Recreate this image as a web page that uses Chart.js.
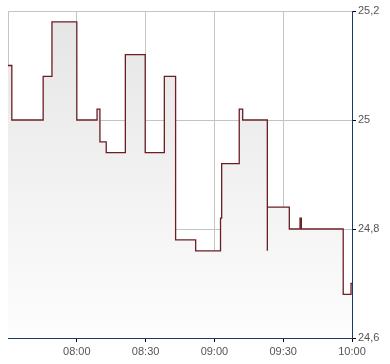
<!DOCTYPE html>
<html>
<head>
<meta charset="utf-8">
<script src="https://cdn.jsdelivr.net/npm/chart.js@4/dist/chart.umd.min.js"></script>
<style>
  html,body{margin:0;padding:0;background:#fff}
  #wrap{width:390px;height:364px}
</style>
</head>
<body>
<div id="wrap"><canvas id="c"></canvas></div>
<script>
// change points of the price (step line)
const times=['07:30:00','07:31:40','07:45:20','07:49:10','08:00:00','08:08:50','08:10:05','08:12:50',
  '08:21:10','08:29:50','08:38:10','08:43:05','08:51:50','09:02:40','09:03:10','09:10:50','09:12:20',
  '09:23:05','09:23:05','09:32:40','09:37:20','09:37:55','09:56:10','09:59:35','10:00:00'];
const prices=[25.10,25.00,25.08,25.18,25.00,25.02,24.96,24.94,
  25.12,24.94,25.08,24.78,24.76,24.82,24.92,25.02,25.00,
  24.76,24.84,24.80,24.82,24.80,24.68,24.70,24.70];
const xTicks=['07:30','08:00','08:30','09:00','09:30','10:00'];
const yTicks=[24.6,24.8,25.0,25.2];

const toMin=s=>{const p=s.split(':').map(Number);return p[0]*60+p[1]+(p[2]||0)/60;};
const fmtTime=m=>String(Math.floor(m/60)).padStart(2,'0')+':'+String(Math.round(m%60)).padStart(2,'0');
const xMin=toMin(xTicks[0]), xMax=toMin(xTicks[xTicks.length-1]);

const pts=times.map((t,i)=>({x:toMin(t),y:prices[i]}));
const axisBlue='#1b3a6b', grid='#c4c4c4';

new Chart(document.getElementById('c'),{
  type:'line',
  data:{datasets:[{
    data:pts,
    stepped:true,
    borderColor:'#6b1f24',
    borderWidth:1.3,
    pointRadius:0,
    fill:'start',
    backgroundColor(ctx){
      const a=ctx.chart.chartArea;
      if(!a) return '#eee';
      const g=ctx.chart.ctx.createLinearGradient(0,a.top,0,a.bottom);
      g.addColorStop(0,'#e5e5e5');
      g.addColorStop(1,'#fdfdfd');
      return g;
    }
  }]},
  options:{
    responsive:true,maintainAspectRatio:false,animation:false,
    layout:{padding:{left:8,top:11,right:0,bottom:0}},
    plugins:{legend:{display:false},tooltip:{enabled:false}},
    scales:{
      x:{
        type:'linear',min:xMin,max:xMax,
        afterBuildTicks(s){s.ticks=xTicks.map(t=>({value:toMin(t)}));},
        afterFit(s){s.height=26;},
        border:{color:axisBlue,width:1},
        grid:{
          color:c=>c.tick && c.tick.value===xMax?'rgba(0,0,0,0)':grid,
          tickColor:c=>c.tick && c.tick.value===xMin?'rgba(0,0,0,0)':'#000',
          tickLength:4,lineWidth:1
        },
        ticks:{
          color:'#555',padding:3,maxRotation:0,autoSkip:false,
          font:{family:'"Liberation Sans", Arial, sans-serif',size:11},
          callback:v=>v===xMin?'':fmtTime(v)
        }
      },
      y:{
        position:'right',min:yTicks[0],max:yTicks[yTicks.length-1],
        afterBuildTicks(s){s.ticks=yTicks.map(v=>({value:v}));},
        afterFit(s){s.width=38;},
        border:{color:axisBlue,width:1},
        grid:{
          color:c=>c.tick && Math.abs(c.tick.value-yTicks[0])<1e-9?'rgba(0,0,0,0)':grid,
          tickColor:'#000',tickLength:4,lineWidth:1
        },
        ticks:{
          color:'#555',padding:2,
          font:{family:'"Liberation Sans", Arial, sans-serif',size:11},
          callback:v=>String(Math.round(v*10)/10).replace('.',',')
        }
      }
    }
  }
});
</script>
</body>
</html>
